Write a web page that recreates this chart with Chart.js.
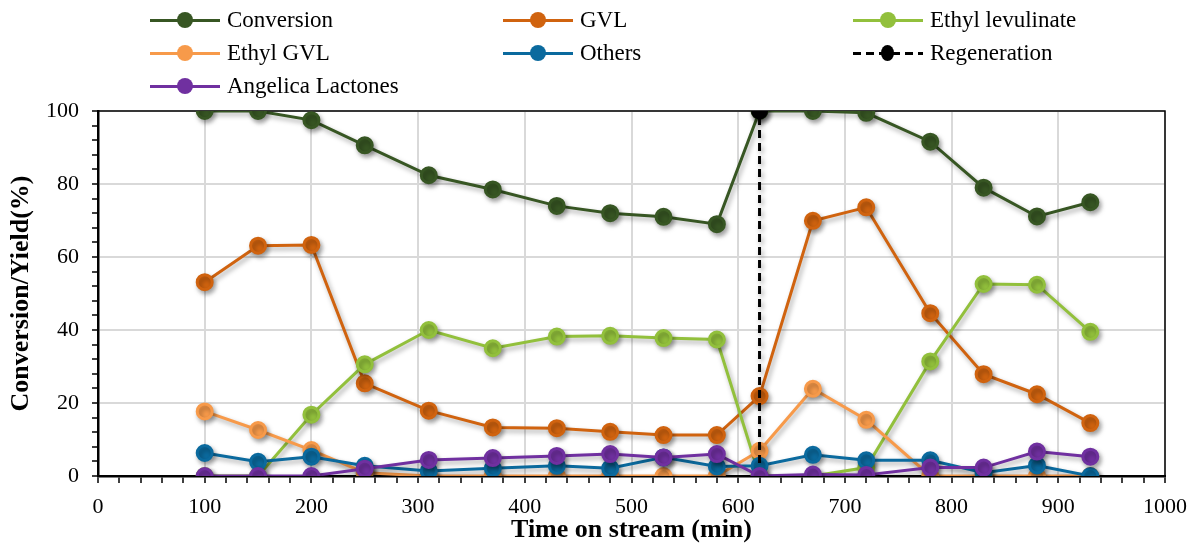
<!DOCTYPE html>
<html>
<head>
<meta charset="utf-8">
<script src="https://cdn.jsdelivr.net/npm/chart.js@4.4.1/dist/chart.umd.min.js"></script>
<style>
  html, body { margin: 0; padding: 0; background: #fff; }
  #wrap { position: relative; width: 1192px; height: 543px; }
  #chart { position: absolute; left: 0; top: 0; }
  .li { position: absolute; display: flex; align-items: center; transform: translateY(-50%);
        font-family: "Liberation Serif", "Times New Roman", serif; font-size: 23px; color: #000; white-space: nowrap; }
  .sym { position: relative; width: 70px; height: 16px; margin-right: 7px; }
  .sym .ln { position: absolute; left: 0; right: 0; top: 6.5px; height: 3px; }
  .sym .dot { position: absolute; left: 27px; top: 0; width: 16px; height: 16px; border-radius: 50%; }
</style>
</head>
<body>
<div id="wrap">
  <canvas id="chart" width="1192" height="543"></canvas>
  <div id="legend"></div>
</div>
<script>
// Time on stream (min)
const timeMin = [100, 150, 200, 250, 310, 370, 430, 480, 530, 580, 620, 670, 720, 780, 830, 880, 930];

// Conversion and product yields (%)
const conversion = [100, 100, 97.5, 90.6, 82.4, 78.5, 74, 72, 71, 69, 100, 100, 99.5, 91.6, 79, 71.1, 75];
const gvl        = [53.1, 63.1, 63.3, 25.4, 17.9, 13.3, 13.1, 12.1, 11.2, 11.2, 21.9, 69.9, 73.6, 44.6, 27.9, 22.4, 14.5];
const ethylLev   = [0, 0, 16.8, 30.6, 40, 35, 38.2, 38.4, 37.8, 37.4, 0, 0, 2.3, 31.4, 52.6, 52.4, 39.5];
const ethylGvl   = [17.7, 12.6, 7.1, 0.9, 0, 0, 0, 0, 0, 0, 6.9, 23.9, 15.4, 0, 0, 0, 0];
const others     = [6.3, 3.9, 5.3, 2.8, 1.4, 2.1, 2.8, 2.1, 5.1, 2.6, 2.8, 5.8, 4.3, 4.3, 0.9, 2.9, 0];
const angelica   = [0, 0, 0, 2.0, 4.4, 4.9, 5.5, 6.0, 5.1, 6.0, 0, 0.4, 0.3, 2.3, 2.3, 6.7, 5.3];

// Catalyst regeneration point
const regenTime = 620;
const regenSpan = [0, 100];

// Axis ticks
const xTickLabels = [0, 100, 200, 300, 400, 500, 600, 700, 800, 900, 1000];
const yTickLabels = [0, 20, 40, 60, 80, 100];

const FONT = '"Liberation Serif", "Times New Roman", serif';

function pts(ys) { return timeMin.map((t, i) => ({ x: t, y: ys[i] })); }

function series(label, ys, color, order) {
  return {
    label, data: pts(ys), order,
    borderColor: color, backgroundColor: color,
    pointBackgroundColor: color, pointBorderColor: color,
    borderWidth: 3, pointRadius: 7.5, pointHoverRadius: 7.5, tension: 0
  };
}

const datasets = [
  series('Conversion', conversion, '#375623', 7),
  series('GVL', gvl, '#d0630f', 6),
  series('Ethyl levulinate', ethylLev, '#92c03c', 5),
  series('Ethyl GVL', ethylGvl, '#f79a4a', 4),
  series('Others', others, '#0b6a9e', 3),
  {
    label: 'Regeneration', order: 2,
    data: regenSpan.map(y => ({ x: regenTime, y })),
    borderColor: '#000', backgroundColor: '#000',
    pointBackgroundColor: '#000', pointBorderColor: '#000',
    borderWidth: 3, borderDash: [8, 5], pointRadius: [0, 7], pointHoverRadius: 7
  },
  series('Angelica Lactones', angelica, '#7030a0', 1)
];

// Soft drop shadow under lines and markers
const shadowPlugin = {
  id: 'markerShadow',
  beforeDatasetDraw(chart) {
    const ctx = chart.ctx;
    ctx.save();
    ctx.shadowColor = 'rgba(0,0,0,0.35)';
    ctx.shadowBlur = 5;
    ctx.shadowOffsetX = 2;
    ctx.shadowOffsetY = 3;
  },
  afterDatasetDraw(chart) { chart.ctx.restore(); }
};

// Thin frame on the top and right of the plot area
const framePlugin = {
  id: 'frame',
  beforeDatasetsDraw(chart) {
    const { ctx, chartArea: a } = chart;
    ctx.save();
    ctx.strokeStyle = '#000';
    ctx.lineWidth = 1.5;
    ctx.beginPath();
    ctx.moveTo(a.left, a.top);
    ctx.lineTo(a.right, a.top);
    ctx.lineTo(a.right, a.bottom);
    ctx.stroke();
    ctx.restore();
  }
};

const chart = new Chart(document.getElementById('chart'), {
  type: 'line',
  data: { datasets },
  plugins: [shadowPlugin, framePlugin],
  options: {
    responsive: false,
    animation: false,
    devicePixelRatio: 1,
    layout: { padding: { top: 111, right: 27, left: 0, bottom: 0 } },
    plugins: { legend: { display: false }, tooltip: { enabled: false } },
    scales: {
      x: {
        type: 'linear', min: 0, max: 1000,
        afterFit(s) { s.height = 67; s.paddingRight = 0; s.paddingLeft = 0; },
        ticks: {
          stepSize: 20, autoSkip: false, maxRotation: 0, padding: 11,
          color: '#000', font: { family: FONT, size: 22 },
          callback: v => xTickLabels.includes(v) ? String(v) : ''
        },
        grid: {
          color: c => (c.tick && xTickLabels.includes(c.tick.value)) ? '#d9d9d9' : 'rgba(0,0,0,0)',
          lineWidth: 2, tickColor: '#000', tickLength: 7, tickWidth: 1.5
        },
        border: { color: '#000', width: 2.5 },
        title: {
          display: true, text: 'Time on stream (min)', color: '#000',
          font: { family: FONT, size: 26, weight: 'bold', lineHeight: 1 },
          padding: { top: 0, bottom: 0 }
        }
      },
      y: {
        min: 0, max: 100,
        afterFit(s) { s.width = 98; },
        ticks: {
          stepSize: 4, autoSkip: false, padding: 13,
          color: '#000', font: { family: FONT, size: 22 },
          callback: v => yTickLabels.includes(v) ? String(v) : ''
        },
        grid: {
          color: c => (c.tick && yTickLabels.includes(c.tick.value)) ? '#d9d9d9' : 'rgba(0,0,0,0)',
          lineWidth: 2, tickColor: '#000', tickLength: 6, tickWidth: 1.5
        },
        border: { color: '#000', width: 2.5 },
        title: {
          display: true, text: 'Conversion/Yield(%)', color: '#000',
          font: { family: FONT, size: 26, weight: 'bold', lineHeight: 1 },
          padding: { top: 8, bottom: 0 }
        }
      }
    }
  }
});

// Legend laid out in three columns, rows filled left to right
const legendCols = [150, 503, 853];
const legendRows = [20, 53, 86];
const legendOrder = ['Conversion', 'GVL', 'Ethyl levulinate', 'Ethyl GVL', 'Others', 'Regeneration', 'Angelica Lactones'];
const legendEl = document.getElementById('legend');
legendOrder.forEach((name, i) => {
  const ds = datasets.find(d => d.label === name);
  const item = document.createElement('div');
  item.className = 'li';
  item.style.left = legendCols[i % 3] + 'px';
  item.style.top = legendRows[Math.floor(i / 3)] + 'px';
  const sym = document.createElement('span');
  sym.className = 'sym';
  const ln = document.createElement('span');
  ln.className = 'ln';
  if (ds.borderDash) {
    ln.style.background = 'repeating-linear-gradient(90deg, #000 0 8px, transparent 8px 13px)';
  } else {
    ln.style.background = ds.borderColor;
  }
  const dot = document.createElement('span');
  dot.className = 'dot';
  dot.style.background = ds.borderColor;
  if (ds.borderDash) { dot.style.width = '13px'; dot.style.height = '16px'; dot.style.left = '28px'; }
  sym.appendChild(ln); sym.appendChild(dot);
  const tx = document.createElement('span');
  tx.textContent = name;
  item.appendChild(sym); item.appendChild(tx);
  legendEl.appendChild(item);
});
</script>
</body>
</html>
